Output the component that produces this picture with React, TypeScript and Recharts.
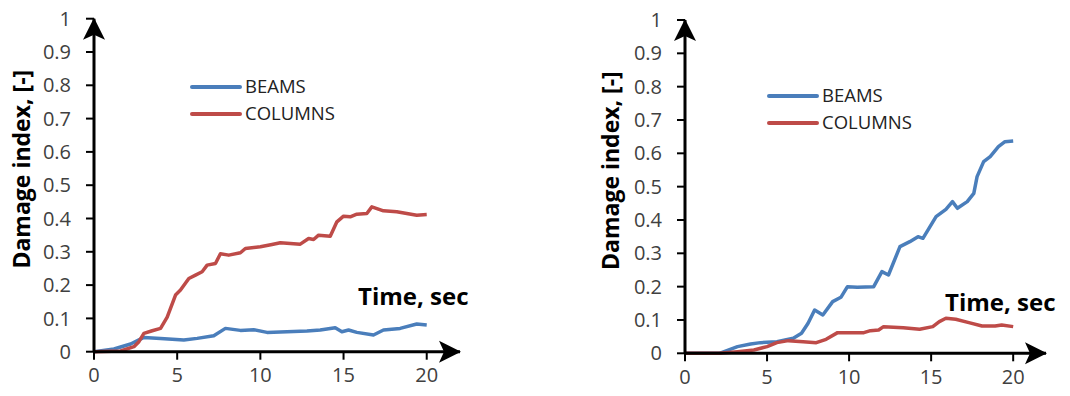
import React from 'react';
import { LineChart, Line, XAxis, YAxis, Label } from 'recharts';

// time [s] / damage index pairs, read per curve
const leftBeamsT = [0, 1.2, 2.2, 3.0, 4.0, 5.4, 6.2, 7.2, 7.9, 8.8, 9.6, 10.4, 11.6, 12.8, 13.6, 14.5, 14.9, 15.3, 15.8, 16.8, 17.4, 18.4, 19.4, 20];
const leftBeamsD = [0, 0.008, 0.023, 0.043, 0.04, 0.035, 0.04, 0.048, 0.07, 0.064, 0.066, 0.058, 0.06, 0.062, 0.065, 0.072, 0.06, 0.065, 0.058, 0.05, 0.065, 0.07, 0.083, 0.08];

const leftColumnsT = [0, 1.6, 2.4, 2.7, 3.0, 3.5, 4.0, 4.4, 4.9, 5.2, 5.7, 6.1, 6.5, 6.8, 7.3, 7.6, 8.1, 8.8, 9.1, 10.0, 10.7, 11.2, 12.4, 12.9, 13.2, 13.5, 14.2, 14.6, 15.0, 15.4, 15.8, 16.4, 16.7, 17.4, 18.2, 19.4, 20];
const leftColumnsD = [0, 0.002, 0.015, 0.03, 0.055, 0.063, 0.07, 0.104, 0.17, 0.185, 0.22, 0.23, 0.24, 0.26, 0.265, 0.294, 0.29, 0.297, 0.31, 0.315, 0.322, 0.327, 0.323, 0.34, 0.337, 0.35, 0.347, 0.39, 0.407, 0.405, 0.413, 0.415, 0.435, 0.423, 0.42, 0.41, 0.412];

const rightBeamsT = [0, 2.1, 3.2, 4.0, 4.6, 5.6, 6.6, 7.1, 7.5, 7.9, 8.4, 9.0, 9.5, 9.9, 10.5, 11.5, 12.0, 12.4, 13.1, 13.7, 14.2, 14.5, 15.3, 15.9, 16.3, 16.6, 17.2, 17.6, 17.8, 18.2, 18.6, 19.1, 19.5, 20];
const rightBeamsD = [0, 0, 0.02, 0.028, 0.032, 0.035, 0.045, 0.06, 0.09, 0.13, 0.115, 0.155, 0.168, 0.2, 0.198, 0.2, 0.245, 0.235, 0.32, 0.335, 0.35, 0.345, 0.41, 0.432, 0.455, 0.435, 0.455, 0.48, 0.53, 0.575, 0.59, 0.62, 0.635, 0.637];

const rightColumnsT = [0, 2.1, 3.2, 4.2, 5.0, 5.6, 6.3, 7.2, 8.0, 8.6, 9.3, 10.1, 10.9, 11.3, 11.8, 12.1, 13.3, 14.3, 15.1, 15.5, 15.9, 16.5, 17.3, 18.1, 18.9, 19.3, 20];
const rightColumnsD = [0, 0, 0.005, 0.01, 0.02, 0.032, 0.038, 0.035, 0.032, 0.042, 0.062, 0.062, 0.062, 0.068, 0.07, 0.08, 0.077, 0.072, 0.08, 0.095, 0.105, 0.102, 0.092, 0.082, 0.082, 0.085, 0.08];

const seriesNames = ['BEAMS', 'COLUMNS'];
const seriesColors = ['#4A7EBB', '#BE4B48'];

const yTicks = [0, 0.1, 0.2, 0.3, 0.4, 0.5, 0.6, 0.7, 0.8, 0.9, 1];
const xTicks = [0, 5, 10, 15, 20];

const zip = (t: number[], d: number[]) => t.map((time, i) => ({ time, damage: d[i] }));

const FONT = '"Open Sans", "Noto Sans", sans-serif';

const axisStroke = { stroke: '#000', strokeWidth: 3 };

type PanelProps = {
  left: number;
  width: number;
  top: number;
  plotHeight: number;
  rightMargin: number;
  beams: { time: number; damage: number }[];
  columns: { time: number; damage: number }[];
  legendPos: { left: number; top: number };
  timeLabel: { dx: number; dy: number };
  yLabelX: number;
};

// legend drawn as a plain box so it does not shrink the plot area
function LegendBox({ left, top }: { left: number; top: number }) {
  return (
    <div style={{ position: 'absolute', left, top, fontFamily: FONT, fontSize: 18.5, color: '#222', lineHeight: 1 }}>
      {seriesNames.map((name, i) => (
        <div key={name} style={{ display: 'flex', alignItems: 'center', height: 27 }}>
          <div style={{ width: 52, height: 4, borderRadius: 2, background: seriesColors[i], marginRight: 3 }} />
          <span>{name}</span>
        </div>
      ))}
    </div>
  );
}

function Panel(p: PanelProps) {
  const height = 396;
  const xAxisHeight = 40;
  return (
    <div style={{ position: 'absolute', left: p.left, top: 0, width: p.width, height }}>
      <LineChart
        width={p.width}
        height={height}
        margin={{ top: p.top, right: p.rightMargin, left: 0, bottom: height - p.top - p.plotHeight - xAxisHeight }}
        style={{ overflow: 'visible' }}
      >
        <XAxis
          dataKey="time"
          type="number"
          domain={[0, 22]}
          ticks={xTicks}
          allowDataOverflow
          height={xAxisHeight}
          axisLine={{ ...axisStroke, markerEnd: 'url(#axisArrow)' }}
          tickLine={{ stroke: '#000', strokeWidth: 2 }}
          tickSize={8}
          tickMargin={8}
          tick={{ fill: '#404040', fontSize: 20, fontFamily: FONT }}
        >
          <Label
            content={(props: any) => {
              const vb = props.viewBox;
              return (
                <text x={vb.x + p.timeLabel.dx} y={vb.y + p.timeLabel.dy} fontFamily={FONT} fontWeight="bold" fontSize={24} fill="#000">
                  Time, sec
                </text>
              );
            }}
          />
        </XAxis>
        <YAxis
          type="number"
          domain={[0, 1]}
          ticks={yTicks}
          width={94}
          axisLine={{ ...axisStroke, markerStart: 'url(#axisArrow)' }}
          tickLine={{ stroke: '#000', strokeWidth: 2 }}
          tickSize={8}
          tickMargin={15}
          tickFormatter={(v: number) => String(Number(v.toFixed(1)))}
          tick={{ fill: '#404040', fontSize: 20, fontFamily: FONT }}
        >
          <Label
            content={(props: any) => {
              const vb = props.viewBox;
              const cy = vb.y + vb.height / 2 - 16;
              return (
                <text
                  x={p.yLabelX}
                  y={cy}
                  transform={`rotate(-90 ${p.yLabelX} ${cy})`}
                  textAnchor="middle"
                  dominantBaseline="central"
                  fontFamily={FONT}
                  fontWeight="bold"
                  fontSize={23}
                  fill="#000"
                >
                  Damage index, [-]
                </text>
              );
            }}
          />
        </YAxis>
        <Line data={p.beams} dataKey="damage" name={seriesNames[0]} stroke={seriesColors[0]} strokeWidth={3.5} strokeLinejoin="round" dot={false} isAnimationActive={false} />
        <Line data={p.columns} dataKey="damage" name={seriesNames[1]} stroke={seriesColors[1]} strokeWidth={3.5} strokeLinejoin="round" dot={false} isAnimationActive={false} />
      </LineChart>
      <LegendBox left={p.legendPos.left} top={p.legendPos.top} />
    </div>
  );
}

export default function App() {
  return (
    <div style={{ position: 'absolute', left: 0, top: 0, width: 1070, height: 396, background: '#fff', overflow: 'hidden' }}>
      <svg width={0} height={0} style={{ position: 'absolute' }}>
        <defs>
          <marker id="axisArrow" markerUnits="userSpaceOnUse" markerWidth={24} markerHeight={24} viewBox="0 0 24 24" refX={21} refY={12} orient="auto-start-reverse">
            <path d="M0,1 L22,12 L0,23 L5,12 Z" fill="#000" />
          </marker>
        </defs>
      </svg>
      <Panel
        left={0}
        width={535}
        top={18.7}
        plotHeight={333}
        rightMargin={75}
        beams={zip(leftBeamsT, leftBeamsD)}
        columns={zip(leftColumnsT, leftColumnsD)}
        legendPos={{ left: 190, top: 73 }}
        timeLabel={{ dx: 264, dy: -47 }}
        yLabelX={21}
      />
      <Panel
        left={591}
        width={479}
        top={20}
        plotHeight={333.3}
        rightMargin={24}
        beams={zip(rightBeamsT, rightBeamsD)}
        columns={zip(rightColumnsT, rightColumnsD)}
        legendPos={{ left: 176, top: 82 }}
        timeLabel={{ dx: 260, dy: -42 }}
        yLabelX={19}
      />
    </div>
  );
}
